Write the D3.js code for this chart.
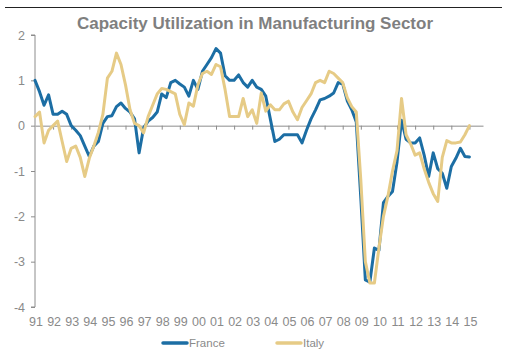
<!DOCTYPE html>
<html>
<head>
<meta charset="utf-8">
<script src="https://cdn.jsdelivr.net/npm/d3@7"></script>
<style>
  html, body { margin: 0; padding: 0; background: #ffffff; }
  svg { display: block; }
</style>
</head>
<body>
<svg id="chart" width="509" height="360"></svg>
<script>
// ---- Data (quarterly, 1991Q1 .. 2015Q1) ----
const years = ["91","92","93","94","95","96","97","98","99","00","01","02","03","04","05","06","07","08","09","10","11","12","13","14","15"];
const yTicks = [2, 1, 0, -1, -2, -3, -4];
const seriesNames = ["France", "Italy"];

const france = [
  1.0, 0.75, 0.45, 0.68, 0.25, 0.25, 0.32, 0.25,
  0.0, -0.1, -0.22, -0.45, -0.68, -0.45, -0.35, 0.05,
  0.2, 0.22, 0.42, 0.5, 0.38, 0.3, 0.15, -0.6,
  -0.05, 0.1, 0.18, 0.3, 0.7, 0.62, 0.95, 1.0,
  0.92, 0.85, 0.65, 1.0, 0.8, 1.2, 1.35, 1.5,
  1.7, 1.6, 1.1, 1.0, 1.0, 1.12, 0.95, 0.85,
  1.0, 0.85, 0.8, 0.65, 0.15, -0.35, -0.3, -0.2,
  -0.2, -0.2, -0.2, -0.38, -0.1, 0.15, 0.35, 0.57,
  0.6, 0.65, 0.72, 0.95, 0.92, 0.55, 0.35, 0.08,
  -1.6, -3.4, -3.45, -2.7, -2.75, -1.7, -1.56, -1.45,
  -0.8, 0.12, -0.3, -0.38, -0.38, -0.27, -0.65, -1.12,
  -0.6, -0.95, -1.05, -1.38, -0.9, -0.72, -0.5, -0.68,
  -0.69
];

const italy = [
  0.2, 0.3, -0.38, -0.1, 0.0, 0.1, -0.35, -0.79,
  -0.5, -0.45, -0.7, -1.12, -0.72, -0.45, -0.15, 0.25,
  1.05, 1.2, 1.6, 1.35, 0.9, 0.35, 0.05, 0.0,
  -0.16, 0.2, 0.45, 0.7, 0.82, 0.8, 0.75, 0.7,
  0.25, 0.02, 0.5, 0.43, 0.9, 1.15, 1.2, 1.13,
  1.35, 1.3, 0.8, 0.2, 0.2, 0.2, 0.6, 0.2,
  0.35, 0.05, 0.72, 0.32, 0.46, 0.35, 0.35, 0.48,
  0.54, 0.3, 0.13, 0.4, 0.55, 0.7, 0.95, 1.0,
  0.95, 1.2, 1.15, 1.05, 0.95, 0.62, 0.42, 0.3,
  -1.2, -3.0, -3.47, -3.47, -2.7, -2.0, -1.55, -1.0,
  -0.55, 0.6, -0.2, -0.4, -0.65, -0.6, -0.95, -1.25,
  -1.5, -1.67, -0.7, -0.33, -0.38, -0.38, -0.36, -0.2,
  0.0
];

const colors = { France: "#1c6ea4", Italy: "#e6cb86" };

// ---- Layout ----
const svg = d3.select("#chart");
const x = d3.scaleLinear().domain([0, 99]).range([35, 483]);
const y = d3.scaleLinear().domain([-4, 2]).range([307, 35]);

// top rule
svg.append("line")
  .attr("x1", 5).attr("x2", 502).attr("y1", 7.5).attr("y2", 7.5)
  .attr("stroke", "#222").attr("stroke-width", 1.2);

// title
svg.append("text")
  .attr("x", 255).attr("y", 29)
  .attr("text-anchor", "middle")
  .attr("font-family", "Liberation Sans, Arial, sans-serif")
  .attr("font-weight", "bold")
  .attr("font-size", 17)
  .attr("fill", "#7f7f7f")
  .text("Capacity Utilization in Manufacturing Sector");

// y axis
const yAxis = d3.axisLeft(y)
  .tickValues(yTicks)
  .tickSize(4)
  .tickPadding(6)
  .tickFormat(d => (d < 0 ? "-" + Math.abs(d) : String(d)));
const gy = svg.append("g").attr("transform", "translate(35,0)").call(yAxis);
gy.select(".domain").attr("stroke", "#8c8c8c").attr("d", "M-4,35H0V307H-4");
gy.selectAll(".tick line").attr("stroke", "#8c8c8c");
gy.selectAll(".tick text")
  .attr("fill", "#8a8a8a")
  .attr("font-family", "Liberation Sans, Arial, sans-serif")
  .attr("font-size", 12.5);

// x axis line at zero with year ticks
const yearIdx = years.map((d, i) => i * 4);
const xAxis = d3.axisBottom(x)
  .tickValues(yearIdx.slice(1))
  .tickSize(4)
  .tickSizeOuter(0)
  .tickFormat("");
const gx = svg.append("g").attr("transform", `translate(0,${y(0)})`).call(xAxis);
gx.select(".domain").attr("stroke", "#8c8c8c");
gx.selectAll(".tick line").attr("stroke", "#8c8c8c");

// x labels at bottom
svg.append("g").selectAll("text")
  .data(years)
  .join("text")
  .attr("x", (d, i) => x(i * 4) + 1)
  .attr("y", 326)
  .attr("text-anchor", "middle")
  .attr("font-family", "Liberation Sans, Arial, sans-serif")
  .attr("font-size", 12.5)
  .attr("fill", "#8a8a8a")
  .text(d => d);

// lines
const line = d3.line()
  .x((d, i) => x(i))
  .y(d => y(d));

const data = { France: france, Italy: italy };
["France", "Italy"].forEach(name => {
  svg.append("path")
    .datum(data[name])
    .attr("fill", "none")
    .attr("stroke", colors[name])
    .attr("stroke-width", 3)
    .attr("stroke-linejoin", "round")
    .attr("stroke-linecap", "round")
    .attr("d", line);
});

// legend
const legendX = { France: 163, Italy: 277 };
seriesNames.forEach(name => {
  const lx = legendX[name];
  svg.append("line")
    .attr("x1", lx).attr("x2", lx + 24)
    .attr("y1", 343).attr("y2", 343)
    .attr("stroke", colors[name])
    .attr("stroke-width", 3.5)
    .attr("stroke-linecap", "round");
  svg.append("text")
    .attr("x", lx + 26).attr("y", 347)
    .attr("font-family", "Liberation Sans, Arial, sans-serif")
    .attr("font-size", 11.5)
    .attr("fill", "#8a8a8a")
    .text(name);
});
</script>
</body>
</html>
